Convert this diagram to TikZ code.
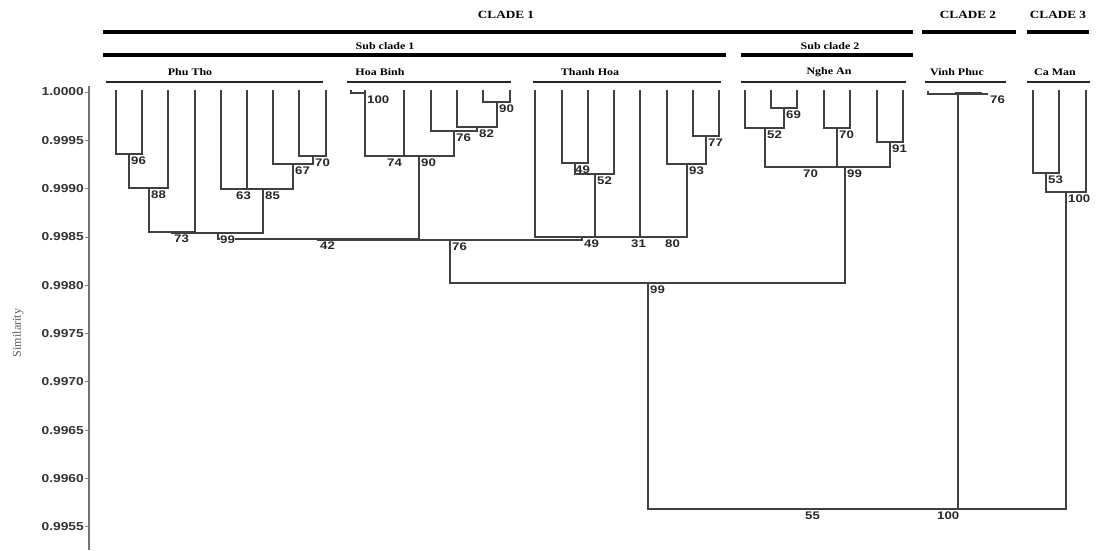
\documentclass[tikz,border=0pt]{standalone}
\usepackage{fontspec}
\newfontfamily\hdrfont{Liberation Serif}[FakeStretch=1.2]
\newfontfamily\numfont{Liberation Sans}[FakeStretch=1.2]
\newfontfamily\simfont{Liberation Serif}
\begin{document}
\begin{tikzpicture}[x=1pt,y=-1pt,
  tree/.style={draw=black!75, line width=1.4pt},
  bs/.style={font=\numfont\bfseries\fontsize{11}{11}\selectfont, anchor=north west, inner sep=0pt, text=black!85},
  cladetxt/.style={font=\hdrfont\bfseries\fontsize{11}{11}\selectfont, inner sep=0pt},
  grptxt/.style={font=\hdrfont\bfseries\fontsize{10}{10}\selectfont, inner sep=0pt},
  cbar/.style={draw=black, line width=4.5pt},
  sbar/.style={draw=black, line width=3.5pt},
  gline/.style={draw=black!85, line width=1.4pt},
  ticklab/.style={font=\numfont\bfseries\fontsize{11.5}{11.5}\selectfont, anchor=east, inner sep=0pt, text=black!80}
]
\useasboundingbox (0,0) rectangle (1099,550);

% ---------- headers ----------
\node[cladetxt] (hc1) at (506,15) {CLADE 1};
\node[cladetxt] (hc2) at (968,15) {CLADE 2};
\node[cladetxt] (hc3) at (1058,15) {CLADE 3};
\draw[cbar] (103,32) -- (913,32);
\draw[cbar] (922,32) -- (1016,32);
\draw[cbar] (1027,32) -- (1089,32);
\node[grptxt] (hs1) at (385,46) {Sub clade 1};
\node[grptxt] (hs2) at (830,46) {Sub clade 2};
\draw[sbar] (103,55) -- (726,55);
\draw[sbar] (741,55) -- (913,55);
\node[grptxt] (gpt) at (190,72) {Phu Tho};
\node[grptxt] (ghb) at (380,72) {Hoa Binh};
\node[grptxt] (gth) at (590,72) {Thanh Hoa};
\node[grptxt] (gna) at (829,72) {Nghe An};
\node[grptxt] (gvp) at (957,72) {Vinh Phuc};
\node[grptxt] (gcm) at (1055,72) {Ca Man};
\draw[gline] (106,82) -- (323,82);
\draw[gline] (347,82) -- (511,82);
\draw[gline] (533,82) -- (721,82);
\draw[gline] (741,82) -- (906,82);
\draw[gline] (925,82) -- (1006,82);
\draw[gline] (1027,82) -- (1090,82);

% ---------- axis ----------
\draw[draw=black!55, line width=1.4pt] (89,86) -- (89,550);
\foreach \v [count=\k from 0] in {1.0000,0.9995,0.9990,0.9985,0.9980,0.9975,0.9970,0.9965,0.9960,0.9955}{
  \draw[draw=black!45, line width=0.8pt] (85,92+\k*48.3) -- (89,92+\k*48.3);
  \node[ticklab] at (84,92+\k*48.3) {\v};
}
\node[font=\simfont\fontsize{12}{12}\selectfont, text=black!65, rotate=90, inner sep=0pt] (ylab) at (18,333) {Similarity};

% ---------- leaves ----------
\foreach \n/\x in {L1/116,L2/142,L3/168,L4/195,L5/221,L6/247,L7/273,L8/299,L9/326,
  H1/351,H2/365,H3/404,H4/431,H5/457,H6/483,H7/510,
  T1/535,T2/562,T3/588,T4/614,T5/640,T6/667,T7/693,T8/719,
  N1/745,N2/771,N3/797,N4/824,N5/850,N6/877,N7/903,
  C1/1033,C2/1059,C3/1086}{
  \coordinate (\n) at (\x,90);
}

% ---------- internal nodes ----------
% Phu Tho
\coordinate (n96) at (129,154);
\coordinate (n88) at (149,188);
\coordinate (n70a) at (313,156);
\coordinate (n67) at (293,164);
\coordinate (n63) at (234,189);
\coordinate (n85) at (263,189);
\coordinate (n73) at (172,232);
\coordinate (n99a) at (218,233);
% Hoa Binh
\coordinate (n100h) at (365,93);
\coordinate (n74) at (385,156);
\coordinate (n90b) at (497,102);
\coordinate (n82) at (477,127);
\coordinate (n76b) at (454,131);
\coordinate (n90c) at (419,156);
\coordinate (n42) at (318,239);
% Thanh Hoa
\coordinate (n49a) at (575,163);
\coordinate (n52a) at (595,174);
\coordinate (n77) at (706,136);
\coordinate (n93) at (687,164);
\coordinate (n80) at (663,237);
\coordinate (n31) at (629,237);
\coordinate (n49b) at (582,237);
\coordinate (n76) at (450,240);
% Nghe An
\coordinate (n69) at (784,108);
\coordinate (n52b) at (765,128);
\coordinate (n70b) at (837,128);
\coordinate (n91) at (890,142);
\coordinate (n70c) at (801,167);
\coordinate (n99b) at (845,167);
\coordinate (n99c) at (648,283);
% Vinh Phuc
\coordinate (V1) at (928,91);
\coordinate (V2) at (955,93);
\coordinate (V3) at (982,93);
\coordinate (V4) at (988,94);
\coordinate (nvp) at (958,94);
% Ca Man
\coordinate (n53) at (1046,173);
\coordinate (n100c) at (1066,192);
% root
\coordinate (n55) at (803,509);
\coordinate (n100r) at (935,509);

% ---------- branches ----------
\draw[tree] (L1) |- (n96) -| (L2);
\draw[tree] (n96) |- (n88) -| (L3);
\draw[tree] (L8) |- (n70a) -| (L9);
\draw[tree] (L7) |- (n67) -| (n70a);
\draw[tree] (L5) |- (n63) -| (L6);
\draw[tree] (n63) |- (n85) -| (n67);
\draw[tree] (n88) |- (n73) -| (L4);
\draw[tree] (n73) |- (n99a) -| (n85);

\draw[tree] (H1) |- (n100h);
\draw[tree] (H2) -- (n100h);
\draw[tree] (n100h) |- (n74) -| (H3);
\draw[tree] (H6) |- (n90b) -| (H7);
\draw[tree] (H5) |- (n82) -| (n90b);
\draw[tree] (H4) |- (n76b) -| (n82);
\draw[tree] (n74) |- (n90c) -| (n76b);
\draw[tree] (n99a) |- (n42) -| (n90c);

\draw[tree] (T2) |- (n49a) -| (T3);
\draw[tree] (n49a) |- (n52a) -| (T4);
\draw[tree] (T7) |- (n77) -| (T8);
\draw[tree] (T6) |- (n93) -| (n77);
\draw[tree] (T5) |- (n80) -| (n93);
\draw[tree] (n52a) |- (n31) -| (n80);
\draw[tree] (T1) |- (n49b) -| (n31);
\draw[tree] (n42) |- (n76) -| (n49b);

\draw[tree] (N2) |- (n69) -| (N3);
\draw[tree] (N1) |- (n52b) -| (n69);
\draw[tree] (N4) |- (n70b) -| (N5);
\draw[tree] (N6) |- (n91) -| (N7);
\draw[tree] (n52b) |- (n70c) -| (n70b);
\draw[tree] (n70c) |- (n99b) -| (n91);
\draw[tree] (n76) |- (n99c) -| (n99b);

\draw[tree] (V1) |- (V4);
\draw[tree, line width=2pt] (V2) -- (V3);

\draw[tree] (C1) |- (n53) -| (C2);
\draw[tree] (n53) |- (n100c) -| (C3);

\draw[tree] (n99c) |- (n55) -| (nvp);
\draw[tree] (n55) |- (n100r) -| (n100c);

% ---------- bootstrap labels ----------
\node[bs] at ([shift={(2,3)}]n96) {96};
\node[bs] at ([shift={(2,3)}]n88) {88};
\node[bs] at ([shift={(2,3)}]n70a) {70};
\node[bs] at ([shift={(2,3)}]n67) {67};
\node[bs] at ([shift={(2,3)}]n63) {63};
\node[bs] at ([shift={(2,3)}]n85) {85};
\node[bs] at ([shift={(2,3)}]n73) {73};
\node[bs, fill=white, inner sep=0.5pt] at ([shift={(1.5,2)}]n99a) {99};
\node[bs] at ([shift={(2,3)}]n100h) {100};
\node[bs] at ([shift={(2,3)}]n74) {74};
\node[bs] at ([shift={(2,3)}]n90b) {90};
\node[bs] at ([shift={(2,3)}]n82) {82};
\node[bs] at ([shift={(2,3)}]n76b) {76};
\node[bs] at ([shift={(2,3)}]n90c) {90};
\node[bs] at ([shift={(2,3)}]n42) {42};
\node[bs] at ([shift={(0,3)}]n49a) {49};
\node[bs] at ([shift={(2,3)}]n52a) {52};
\node[bs] at ([shift={(2,3)}]n77) {77};
\node[bs] at ([shift={(2,3)}]n93) {93};
\node[bs] at ([shift={(2,3)}]n80) {80};
\node[bs] at ([shift={(2,3)}]n31) {31};
\node[bs] at ([shift={(2,3)}]n49b) {49};
\node[bs] at ([shift={(2,3)}]n76) {76};
\node[bs] at ([shift={(2,3)}]n69) {69};
\node[bs] at ([shift={(2,3)}]n52b) {52};
\node[bs] at ([shift={(2,3)}]n70b) {70};
\node[bs] at ([shift={(2,3)}]n91) {91};
\node[bs] at ([shift={(2,3)}]n70c) {70};
\node[bs] at ([shift={(2,3)}]n99b) {99};
\node[bs] at ([shift={(2,3)}]n99c) {99};
\node[bs] at ([shift={(2,2)}]V4) {76};
\node[bs] at ([shift={(2,3)}]n53) {53};
\node[bs] at ([shift={(2,3)}]n100c) {100};
\node[bs] at ([shift={(2,3)}]n55) {55};
\node[bs] at ([shift={(2,3)}]n100r) {100};
\end{tikzpicture}
\end{document}
